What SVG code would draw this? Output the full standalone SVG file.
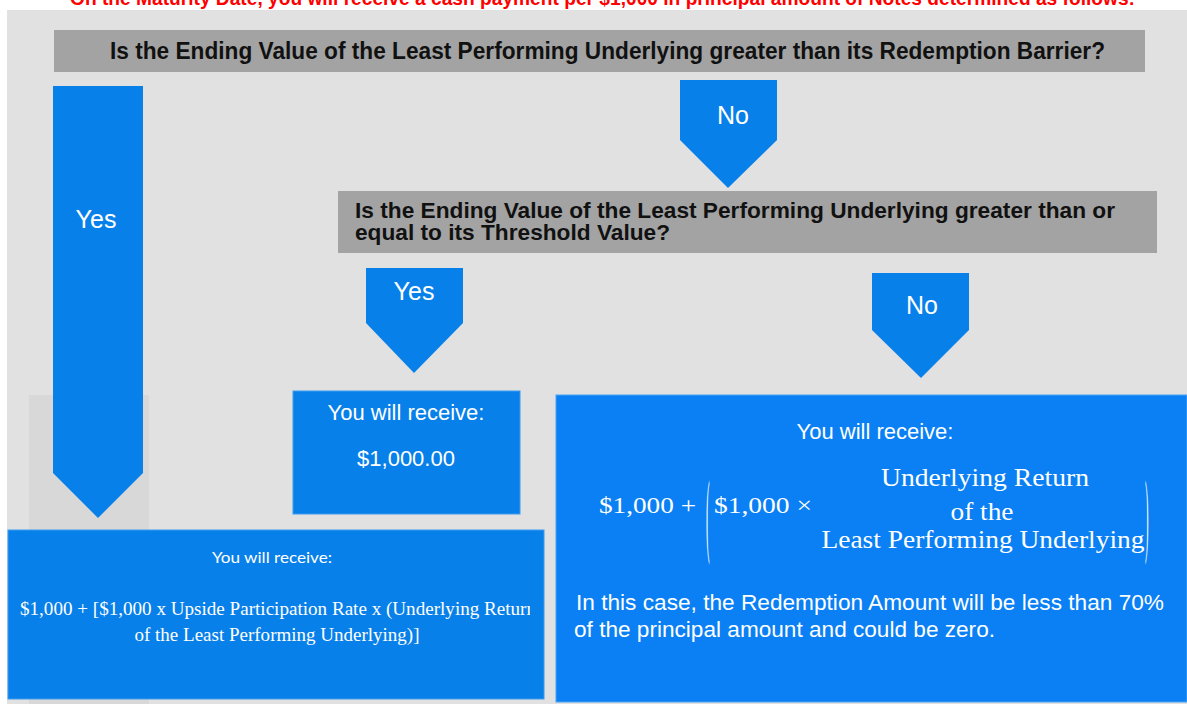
<svg xmlns="http://www.w3.org/2000/svg" width="1187" height="704" viewBox="0 0 1187 704">
<defs>
<style>
.bg{fill:#e1e1e1}
.bar{fill:#a3a3a3}
.blue{fill:#0880ea}
.bluebox{fill:#0880ea;stroke:#3d9bf0;stroke-width:1}
.q{font-family:"Liberation Sans",Arial,sans-serif;font-weight:bold;fill:#111}
.lbl{font-family:"Liberation Sans",Arial,sans-serif;font-size:25px;fill:#fff;text-anchor:middle}
.w{font-family:"Liberation Sans",Arial,sans-serif;font-size:22px;fill:#fff}
.m{font-family:"Liberation Serif","Times New Roman",serif;fill:#fff}
.c{font-family:Lato,"Liberation Sans",sans-serif;fill:#fff}
</style>
<clipPath id="clipL"><rect x="8" y="530" width="522" height="170"/></clipPath>
</defs>
<rect x="0" y="0" width="1187" height="704" fill="#fff"/>
<rect class="bg" x="7" y="10" width="1180" height="694"/>
<text x="70" y="5" font-family="Liberation Sans,Arial,sans-serif" font-weight="bold" font-size="20" fill="#f00" textLength="1065" lengthAdjust="spacingAndGlyphs">On the Maturity Date, you will receive a cash payment per $1,000 in principal amount of Notes determined as follows:</text>
<rect x="29" y="395" width="120" height="309" fill="#d8d8d8"/>

<g id="q1">
<rect class="bar" x="54" y="30" width="1091" height="42"/>
<text class="q" x="110" y="59" font-size="23" textLength="995" lengthAdjust="spacingAndGlyphs">Is the Ending Value of the Least Performing Underlying greater than its Redemption Barrier?</text>
</g>

<g id="q2">
<rect class="bar" x="338" y="191" width="819" height="62"/>
<text class="q" x="355" y="218" font-size="22" textLength="760" lengthAdjust="spacingAndGlyphs">Is the Ending Value of the Least Performing Underlying greater than or</text>
<text class="q" x="355" y="240" font-size="22" textLength="315" lengthAdjust="spacingAndGlyphs">equal to its Threshold Value?</text>
</g>

<g id="connectors">
<g id="yes1">
<polygon class="blue" points="53,86 143,86 143,473 98,518 53,473"/>
<text class="lbl" x="96" y="228">Yes</text>
</g>
<g id="no1">
<polygon class="blue" points="680,80 777,80 777,140 728,188 680,140"/>
<text class="lbl" x="733" y="124">No</text>
</g>
<g id="yes2">
<polygon class="blue" points="366,268 463,268 463,323 414,373 366,323"/>
<text class="lbl" x="414" y="300">Yes</text>
</g>
<g id="no2">
<polygon class="blue" points="872,273 969,273 969,330 921,378 872,330"/>
<text class="lbl" x="922" y="314">No</text>
</g>
</g>

<g id="out-par">
<rect class="bluebox" x="293" y="391" width="227" height="123"/>
<text class="w" x="406" y="420" text-anchor="middle">You will receive:</text>
<text class="w" x="406" y="466" text-anchor="middle">$1,000.00</text>
</g>

<g id="out-upside">
<rect class="bluebox" x="8" y="530" width="536" height="169"/>
<text class="c" x="272" y="563" font-size="16" text-anchor="middle" textLength="120" lengthAdjust="spacingAndGlyphs">You will receive:</text>
<g clip-path="url(#clipL)">
<text class="m" x="20" y="615" font-size="19" textLength="516" lengthAdjust="spacingAndGlyphs">$1,000 + [$1,000 x Upside Participation Rate x (Underlying Return</text>
</g>
<text class="m" x="277" y="641" font-size="19" text-anchor="middle" textLength="285" lengthAdjust="spacingAndGlyphs">of the Least Performing Underlying)]</text>
</g>

<g id="out-loss">
<rect x="556" y="395" width="631" height="307" fill="#0a80f4" stroke="#4aa3f5" stroke-width="1"/>
<text class="w" x="875" y="439" text-anchor="middle">You will receive:</text>
<text class="m" x="599" y="513" font-size="24" textLength="97" lengthAdjust="spacingAndGlyphs">$1,000 +</text>
<text class="m" transform="matrix(0.45,0,0,3.9,706,545)" font-size="24">(</text>
<text class="m" x="714" y="513" font-size="24" textLength="98" lengthAdjust="spacingAndGlyphs">$1,000 ×</text>
<text class="m" x="985" y="486" font-size="25" text-anchor="middle" textLength="208" lengthAdjust="spacingAndGlyphs">Underlying Return</text>
<text class="m" x="982" y="520" font-size="25" text-anchor="middle" textLength="63" lengthAdjust="spacingAndGlyphs">of the</text>
<text class="m" x="983" y="548" font-size="25" text-anchor="middle" textLength="323" lengthAdjust="spacingAndGlyphs">Least Performing Underlying</text>
<text class="m" transform="matrix(0.45,0,0,3.9,1145,545)" font-size="24">)</text>
<text class="w" x="576" y="610" textLength="588" lengthAdjust="spacingAndGlyphs">In this case, the Redemption Amount will be less than 70%</text>
<text class="w" x="574" y="637" textLength="421" lengthAdjust="spacingAndGlyphs">of the principal amount and could be zero.</text>
</g>
</svg>
